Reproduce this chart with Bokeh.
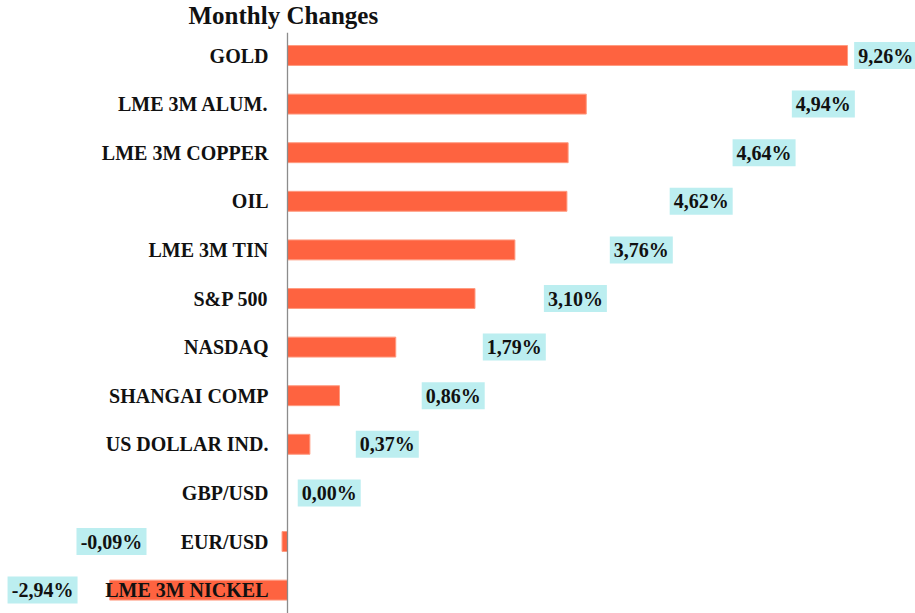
from bokeh.plotting import figure
from bokeh.models import Range1d, Label, ColumnDataSource
from bokeh.core.properties import value
from bokeh.embed import file_html
from bokeh.resources import INLINE

categories = ["GOLD", "LME 3M ALUM.", "LME 3M COPPER", "OIL", "LME 3M TIN", "S&P 500",
              "NASDAQ", "SHANGAI COMP", "US DOLLAR IND.", "GBP/USD", "EUR/USD", "LME 3M NICKEL"]
changes = [9.26, 4.94, 4.64, 4.62, 3.76, 3.10, 1.79, 0.86, 0.37, 0.00, -0.09, -2.94]
# where each value label sits along the x axis (layout, in % units)
label_x = [9.89, 8.86, 7.88, 6.84, 5.85, 4.76, 3.75, 2.74, 1.65, 0.69, -2.91, -4.05]

rows = list(range(len(categories)))
labels = [f"{v:.2f}".replace(".", ",") + "%" for v in changes]
label_w = [63 if len(s) <= 5 else 70 for s in labels]

W, H = 915, 613
px_per_unit = 60.48
zero_px = 287
row_px = 48.6
first_row_px = 55

x_start = -zero_px / px_per_unit
x_end = (W - zero_px) / px_per_unit
y_top = -first_row_px / row_px
y_bottom = (H - first_row_px) / row_px

p = figure(width=W, height=H, output_backend="svg", toolbar_location=None,
           x_range=Range1d(x_start, x_end), y_range=Range1d(y_bottom, y_top),
           min_border=0, min_border_left=0, min_border_right=0,
           min_border_top=0, min_border_bottom=0)
p.xaxis.visible = False
p.yaxis.visible = False
p.xgrid.visible = False
p.ygrid.visible = False
p.outline_line_color = None
p.background_fill_color = "white"
p.border_fill_color = "white"

src = ColumnDataSource(dict(cat=categories, val=changes, row=rows, lx=label_x,
                            lab=labels, lw=label_w, zero=[0] * len(rows)))

p.hbar(y="row", left="zero", right="val", height=0.41, source=src,
       fill_color="#FE6340", line_color="#FF9B80", line_width=1)

p.segment(x0=[0], y0=[-0.47], x1=[0], y1=[y_bottom], line_color="#8c8c8c", line_width=1.3)

p.text(x="zero", y="row", text="cat", source=src, x_offset=-19,
       text_align="right", text_baseline="middle",
       text_font=value("Liberation Serif"), text_font_style="bold",
       text_font_size="20px", text_color="#111111")

p.rect(x="lx", y="row", width="lw", height=27, width_units="screen", height_units="screen",
       source=src, fill_color="#BCEEF0", line_color=None)
p.text(x="lx", y="row", text="lab", source=src,
       text_align="center", text_baseline="middle",
       text_font=value("Liberation Serif"), text_font_style="bold",
       text_font_size="20px", text_color="#111111")

title = Label(x=188, y=H - 15, x_units="screen", y_units="screen", text="Monthly Changes",
              text_font="Liberation Serif", text_font_style="bold", text_font_size="25px",
              text_baseline="middle", text_align="left", text_color="#111111")
p.add_layout(title)

open("out.html", "w").write(file_html(p, INLINE))
